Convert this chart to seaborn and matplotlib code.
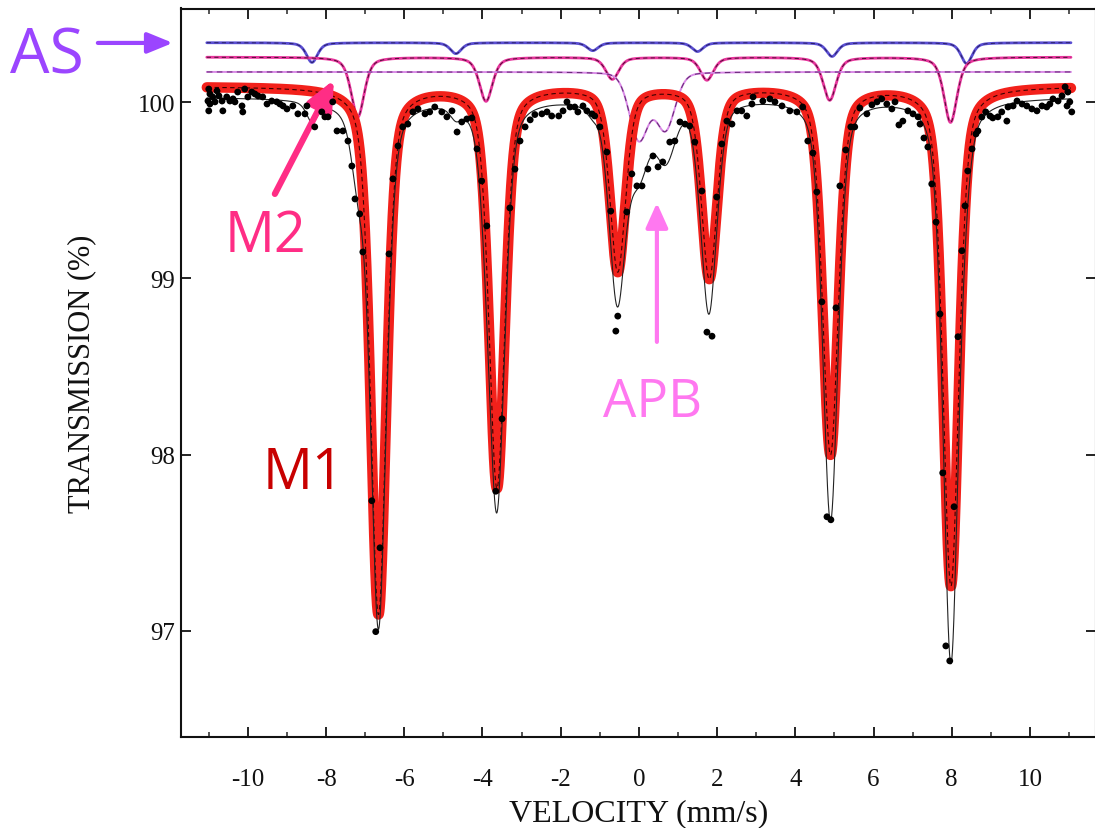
import numpy as np
import pandas as pd
import matplotlib
matplotlib.use("Agg")
import matplotlib.pyplot as plt
import seaborn as sns

# Measured spectrum: velocity (mm/s) and transmission (%)
velocity = [
    -11.00, -10.97, -11.02, -10.97, -11.00, -10.90, -10.84, -10.79, -10.74, -10.66,
    -10.64, -10.54, -10.46, -10.38, -10.33, -10.26, -10.15, -10.13, -10.08, -10.00,
    -9.90, -9.82, -9.74, -9.62, -9.51, -9.39, -9.26, -9.18, -9.10, -9.00,
    -8.85, -8.72, -8.54, -8.49, -8.29, -8.11, -8.03, -7.95, -7.83, -7.72,
    -7.57, -7.44, -7.34, -7.26, -7.14, -7.06, -6.83, -6.73, -6.62, -6.39,
    -6.29, -6.16, -6.04, -5.91, -5.78, -5.65, -5.47, -5.35, -5.22, -5.04,
    -4.91, -4.78, -4.65, -4.53, -4.40, -4.27, -4.14, -4.02, -3.89, -3.66,
    -3.50, -3.30, -3.17, -3.04, -2.91, -2.78, -2.66, -2.48, -2.35, -2.23,
    -2.05,
    -1.94, -1.84, -1.76, -1.64, -1.56, -1.43, -1.33, -1.20, -1.13, -1.00,
    -0.82, -0.72, -0.59, -0.54, -0.31, -0.18, -0.05, 0.08, 0.23, 0.36,
    0.49, 0.61, 0.79, 0.92, 1.05, 1.18, 1.30, 1.43, 1.61, 1.74,
    1.87, 1.99, 2.12, 2.25, 2.38, 2.51, 2.63, 2.76, 2.89, 2.92,
    3.17, 3.35, 3.48, 3.66, 3.86, 4.04, 4.19, 4.32, 4.45, 4.55,
    4.68, 4.81, 4.91, 5.04, 5.14, 5.29, 5.42, 5.52, 5.65, 5.83,
    5.96, 6.09, 6.21, 6.34, 6.47, 6.55, 6.65, 6.75, 6.88, 7.01,
    7.14, 7.19, 7.29, 7.39, 7.49, 7.60, 7.70, 7.77, 7.85, 7.95,
    8.06, 8.16, 8.26, 8.34, 8.41, 8.52, 8.62, 8.67, 8.77, 8.87,
    8.98, 9.05, 9.18, 9.28, 9.41, 9.44, 9.57, 9.67, 9.80, 9.92,
    10.05, 10.18, 10.31, 10.43, 10.51, 10.59, 10.72, 10.82, 10.90, 10.97,
    11.02, 11.07, 10.95,
]
transmission = [
    100.075, 100.047, 100.007, 99.990, 99.951, 100.030, 100.002, 100.064, 100.036, 100.007,
    99.951, 100.030, 100.007, 100.019, 100.002, 100.058, 99.979, 99.945, 100.075, 100.030,
    100.058, 100.047, 100.036, 100.030, 99.990, 100.007, 100.002, 99.990, 99.979, 99.962,
    99.979, 99.934, 99.934, 99.979, 99.860, 99.945, 99.917, 99.917, 100.002, 99.837,
    99.837, 99.780, 99.638, 99.451, 99.366, 99.150, 97.738, 96.995, 97.471, 99.139,
    99.565, 99.752, 99.860, 99.876, 99.945, 99.962, 99.934, 99.945, 99.973, 99.945,
    99.917, 99.951, 99.831, 99.888, 99.905, 99.911, 99.735, 99.553, 99.298, 97.792,
    98.203, 99.400, 99.620, 99.780, 99.860, 99.900, 99.930, 99.934, 99.945, 99.922,
    99.922,
    99.951, 100.002, 99.973, 99.973, 99.945, 99.979, 99.951, 99.934, 99.922, 99.860,
    99.717, 99.382, 98.701, 98.786, 99.377, 99.593, 99.525, 99.525, 99.621, 99.695,
    99.633, 99.661, 99.774, 99.780, 99.888, 99.876, 99.865, 99.774, 99.496, 98.695,
    98.672, 99.462, 99.763, 99.893, 99.876, 99.951, 99.951, 99.922, 99.990, 100.030,
    100.007, 100.019, 100.002, 99.979, 99.951, 99.945, 99.973, 99.780, 99.712, 99.491,
    98.867, 97.647, 97.630, 98.833, 99.525, 99.729, 99.860, 99.860, 99.967, 99.934,
    99.985, 100.002, 100.019, 99.990, 99.962, 100.002, 99.871, 99.893, 99.951, 99.934,
    99.917, 99.876, 99.797, 99.746, 99.536, 99.320, 98.798, 97.896, 96.914, 96.829,
    97.704, 98.669, 99.157, 99.412, 99.610, 99.735, 99.820, 99.837, 99.916, 99.945,
    99.922, 99.911, 99.917, 99.945, 99.893, 99.973, 99.979, 100.007, 99.990, 99.979,
    99.962, 99.951, 99.979, 99.973, 99.990, 100.019, 100.007, 100.036, 100.087, 100.058,
    100.002, 99.945, 99.979,
]

# Fitted sub-spectra: line positions (mm/s), line depths (%), half widths (mm/s),
# Lorentzian fraction of the pseudo-Voigt profile and the displayed base line (%)
m1_pos = [-6.66, -3.63, -0.54, 1.80, 4.90, 7.98]
m1_depth = [2.99, 2.27, 1.04, 1.08, 2.08, 2.83]
m1_hw, m1_eta, m1_base = 0.24, 0.42, 100.090

m2_pos = [-7.19, -3.91, -0.68, 1.74, 4.88, 7.97]
m2_depth = [0.34, 0.25, 0.125, 0.13, 0.244, 0.37]
m2_hw, m2_eta, m2_base = 0.20, 0.50, 100.256

as_pos = [-8.36, -4.68, -1.18, 1.50, 4.94, 8.38]
as_depth = [0.112, 0.062, 0.045, 0.050, 0.078, 0.118]
as_hw, as_eta, as_base = 0.17, 0.50, 100.338

apb_pos = [0.00, 0.68]
apb_depth = [0.38, 0.32]
apb_hw, apb_eta, apb_base = 0.29, 0.20, 100.172

total_base = 100.030

x_ticks = [-10, -8, -6, -4, -2, 0, 2, 4, 6, 8, 10]
y_ticks = [97, 98, 99, 100]


def absorption(v, pos, depth, hw, eta):
    out = np.zeros_like(v)
    for p, d in zip(pos, depth):
        u = (v - p) / hw
        out += d * (eta / (1.0 + u ** 2) + (1.0 - eta) * np.exp(-np.log(2.0) * u ** 2))
    return out


v = np.linspace(-11.05, 11.05, 4421)
a_m1 = absorption(v, m1_pos, m1_depth, m1_hw, m1_eta)
a_m2 = absorption(v, m2_pos, m2_depth, m2_hw, m2_eta)
a_as = absorption(v, as_pos, as_depth, as_hw, as_eta)
a_apb = absorption(v, apb_pos, apb_depth, apb_hw, apb_eta)

curves = pd.DataFrame({
    "v": v,
    "M1": m1_base - a_m1,
    "M2": m2_base - a_m2,
    "AS": as_base - a_as,
    "APB": apb_base - a_apb,
    "total": total_base - (a_m1 + a_m2 + a_as + a_apb),
})
points = pd.DataFrame({"v": velocity, "T": transmission})

sns.set_theme(style="ticks")
plt.rcParams["font.family"] = ["Liberation Serif", "DejaVu Serif"]

W, H = 1095, 829
fig = plt.figure(figsize=(W / 100, H / 100), dpi=100)
ax = fig.add_axes([181 / W, (H - 738) / H, (1096 - 181) / W, (738 - 9.5) / H])
ax.set_xlim(-11.71, 11.69)
ax.set_ylim(96.397, 100.532)


def line(col, color, lw, **kw):
    sns.lineplot(data=curves, x="v", y=col, ax=ax, color=color, lw=lw, sort=False,
                 estimator=None, **kw)


# sub-spectra at the top: coloured line with a dark dashed fit line on it
line("AS", "#5a4ed2", 2.0)
line("AS", "#241a55", 0.6, linestyle=(0, (5, 4)))
line("M2", "#e6359c", 2.0)
line("M2", "#3a0a26", 0.6, linestyle=(0, (5, 4)))
line("APB", "#d98ae6", 1.4)
line("APB", "#6c2c7c", 0.8, linestyle=(0, (5, 4)))

# main sextet M1, highlighted
line("M1", "#f2211b", 7.5, solid_capstyle="round", solid_joinstyle="round")
line("M1", "#3a0000", 0.8, linestyle=(0, (4, 3)))

# total fit and data
line("total", "#222222", 0.8)
sns.scatterplot(data=points, x="v", y="T", ax=ax, color="black", s=24, edgecolor="none", zorder=5)

# axes styling
for side in ["left", "bottom", "top", "right"]:
    ax.spines[side].set_linewidth(1.5)
    ax.spines[side].set_color("#111111")
ax.set_xticks(x_ticks)
ax.set_xticklabels([f"{t:d}" for t in x_ticks])
ax.set_xticks(np.arange(-11, 12, 1), minor=True)
ax.set_yticks(y_ticks)
ax.set_yticklabels([f"{t:d}" for t in y_ticks])
ax.tick_params(axis="both", which="major", direction="in", length=7, width=1.3,
               top=True, right=True, labelsize=18, colors="#111111")
ax.tick_params(axis="x", which="major", pad=22)
ax.tick_params(axis="y", which="major", pad=4)
ax.tick_params(axis="x", which="minor", direction="in", length=3.5, width=1.1, top=True, bottom=True)
ax.tick_params(axis="y", which="minor", left=False, right=False)
ax.set_xlabel("VELOCITY (mm/s)", fontsize=23, color="#111111", labelpad=6)
ax.set_ylabel("TRANSMISSION (%)", fontsize=22, color="#111111", labelpad=30)


def px(x, y):
    return ((x - 639) / 39.1, 100 + (103.3 - y) / 176.2)


label_font = ["Open Sans", "DejaVu Sans"]

# labels with arrows
for text, xy, color, size in [
    ("AS", px(47, 57), "#9b45ff", 45),
    ("M2", px(266, 238), "#ff2d85", 40),
    ("APB", px(653, 403), "#ff78f0", 38),
    ("M1", px(304, 475), "#c80000", 40),
]:
    ax.text(*xy, text, color=color, fontsize=size, family=label_font, ha="center", va="center",
            clip_on=False)

for tail, tip, color, lw, hl, hw, ms in [
    (px(98, 44), px(173, 44), "#9b45ff", 3.0, 1.1, 0.45, 14),
    (px(275, 195), px(334, 81), "#ff2d85", 4.5, 1.1, 0.5, 16),
    (px(657, 343), px(657, 204), "#ff78f0", 3.0, 1.0, 0.45, 15),
]:
    ax.annotate("", xy=tip, xytext=tail, annotation_clip=False,
                arrowprops=dict(arrowstyle=f"-|>,head_length={hl},head_width={hw}", color=color,
                                lw=lw, mutation_scale=ms, shrinkA=0, shrinkB=0))

fig.savefig("out.png", dpi=100, facecolor="white")
